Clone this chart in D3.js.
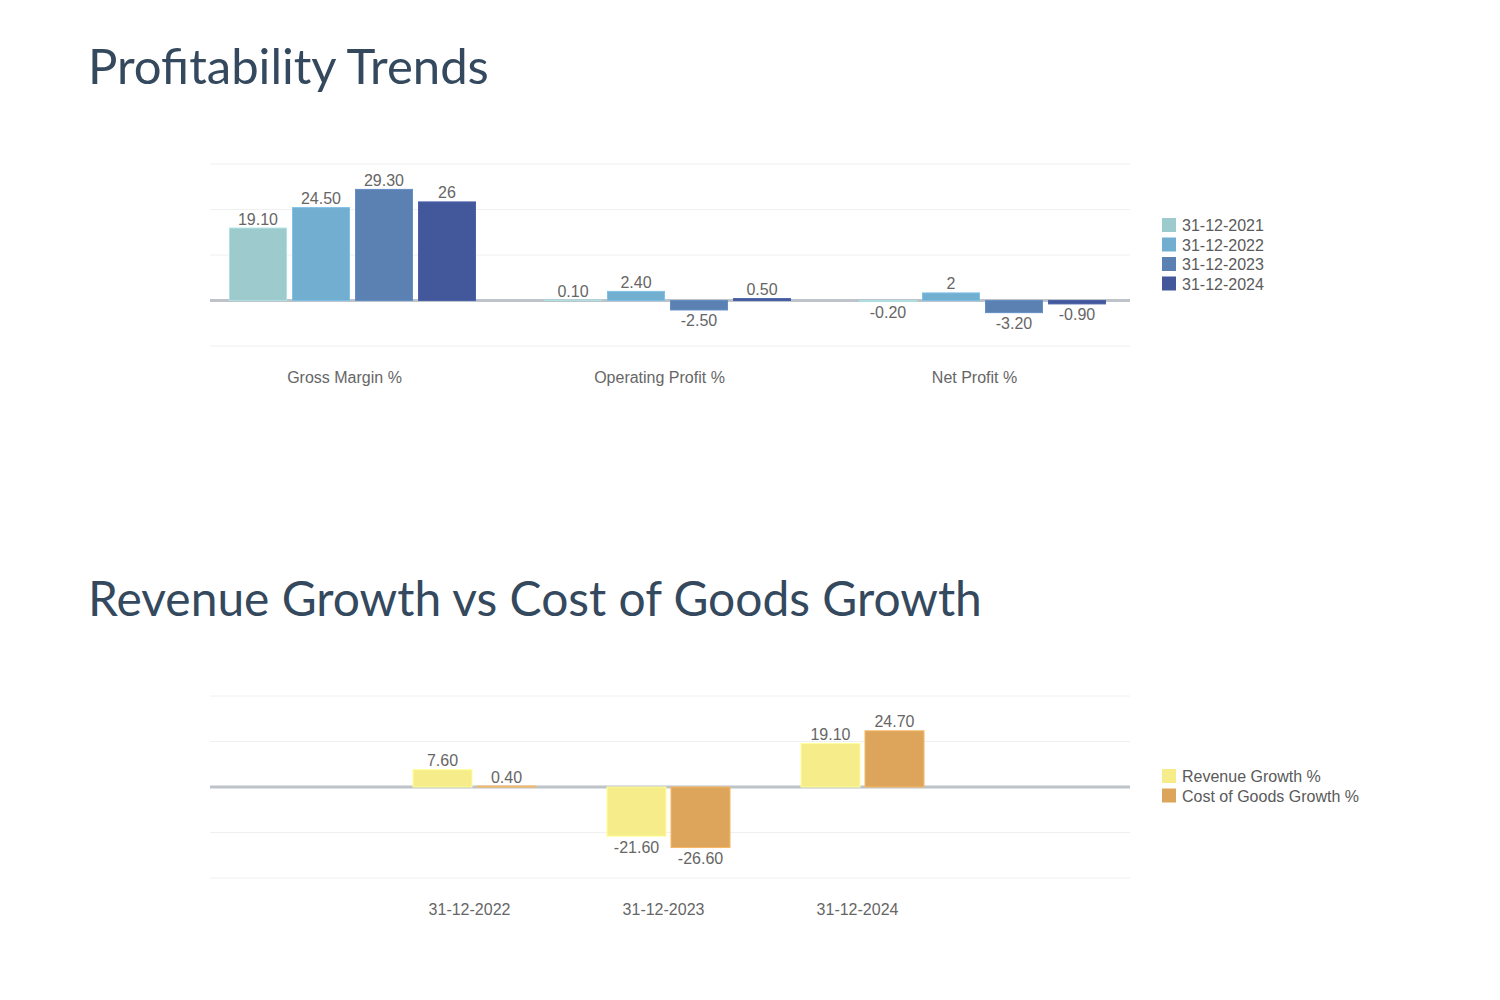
<!DOCTYPE html>
<html>
<head>
<meta charset="utf-8">
<script src="https://cdn.jsdelivr.net/npm/d3@7"></script>
<style>
  html, body { margin: 0; padding: 0; background: #fff; }
  svg { display: block; }
  .title { font-family: "Lato", "Open Sans", sans-serif; fill: #34495e; }
  .lbl { font-family: "Liberation Sans", Arial, sans-serif; font-size: 16px; fill: #666; }
  .legend text { font-family: "Liberation Sans", Arial, sans-serif; font-size: 16px; fill: #5a5a5a; }
</style>
</head>
<body>
<svg id="chart" width="1500" height="1000"></svg>
<script>
// ---------- Data ----------
const categories = ["Gross Margin %", "Operating Profit %", "Net Profit %"];
const years = ["31-12-2021", "31-12-2022", "31-12-2023", "31-12-2024"];
const values2021 = [19.1, 0.1, -0.2];
const values2022 = [24.5, 2.4, 2];
const values2023 = [29.3, -2.5, -3.2];
const values2024 = [26, 0.5, -0.9];
const profitTicks = [-12, 0, 12, 24, 36];

const growthDates = ["31-12-2022", "31-12-2023", "31-12-2024"];
const growthSeries = ["Revenue Growth %", "Cost of Goods Growth %"];
const revenueGrowth = [7.6, -21.6, 19.1];
const cogsGrowth = [0.4, -26.6, 24.7];
const growthTicks = [-40, -20, 0, 20, 40];

// ---------- Helpers ----------
const svg = d3.select("#chart");
const fmt = v => Number.isInteger(v) ? String(v) : v.toFixed(2);

function title(text, x, y, targetWidth) {
  const t = svg.append("text").attr("class", "title").attr("x", x).attr("y", y)
    .style("font-size", "46px").text(text);
  const w = t.node().getComputedTextLength();
  t.style("font-size", (46 * targetWidth / w) + "px");
}

function drawGrouped(opts) {
  const g = svg.append("g");
  const x0 = d3.scaleBand().domain(opts.cats).range(opts.xRange)
    .paddingInner(opts.padInner).paddingOuter(opts.padInner / 2);
  const x1 = d3.scaleBand().domain(opts.series).range([0, x0.bandwidth()])
    .paddingInner(opts.barGap);
  const y = d3.scaleLinear().domain(opts.yDomain).range(opts.yRange);

  // gridlines
  g.selectAll("line.grid").data(opts.ticks.filter(t => t !== 0)).join("line")
    .attr("x1", opts.gridX[0]).attr("x2", opts.gridX[1])
    .attr("y1", d => y(d)).attr("y2", d => y(d))
    .attr("stroke", "#f0f0f0").attr("stroke-width", 1);

  // zero line (beneath bars)
  g.append("line").attr("x1", opts.gridX[0]).attr("x2", opts.gridX[1])
    .attr("y1", y(0)).attr("y2", y(0))
    .attr("stroke", "#bdc3c9").attr("stroke-width", 3);

  // bars
  const rows = [];
  opts.cats.forEach((c, i) => opts.series.forEach((s, j) => {
    rows.push({ c, s, v: opts.values[j][i], color: opts.colors[j] });
  }));
  g.selectAll("rect.bar").data(rows).join("rect")
    .attr("x", d => x0(d.c) + x1(d.s))
    .attr("width", x1.bandwidth())
    .attr("y", d => Math.min(y(d.v), y(0)))
    .attr("height", d => Math.abs(y(d.v) - y(0)))
    .attr("fill", d => d.color)
    .attr("stroke", d => d3.color(d.color).brighter(0.3))
    .attr("stroke-width", 1);

  // value labels
  g.selectAll("text.val").data(rows).join("text").attr("class", "lbl")
    .attr("x", d => x0(d.c) + x1(d.s) + x1.bandwidth() / 2)
    .attr("y", d => d.v >= 0 ? y(d.v) - 3.5 : y(d.v) + 16.5)
    .attr("text-anchor", "middle")
    .text(d => fmt(d.v));

  // x axis labels
  const axis = g.append("g").attr("transform", `translate(0,${opts.axisY})`)
    .call(d3.axisBottom(x0).tickSize(0).tickPadding(0));
  axis.select(".domain").remove();
  axis.selectAll("text").attr("class", "lbl").attr("dx", opts.labelDx)
    .attr("dy", 0).style("font-size", null).attr("font-family", null);

  // legend
  const lg = g.append("g").attr("class", "legend")
    .attr("transform", `translate(${opts.legendX},${opts.legendY})`);
  const item = lg.selectAll("g").data(opts.series).join("g")
    .attr("transform", (d, i) => `translate(0,${i * 19.5})`);
  item.append("rect").attr("x", 0).attr("y", -7).attr("width", 14).attr("height", 14)
    .attr("fill", (d, i) => opts.colors[i]);
  item.append("text").attr("x", 20).attr("y", 6).text(d => d);
}

// ---------- Chart 1 ----------
title("Profitability Trends", 88, 84, 401);
drawGrouped({
  cats: categories, series: years,
  values: [values2021, values2022, values2023, values2024],
  colors: ["#9ccacd", "#72aed0", "#5b80b2", "#43589a"],
  xRange: [195, 1140], padInner: 69 / 315, barGap: 6 / 63,
  yDomain: [-12, 36], yRange: [346, 164], ticks: profitTicks,
  gridX: [210, 1130], axisY: 383, labelDx: -8,
  legendX: 1162, legendY: 225
});

// ---------- Chart 2 ----------
title("Revenue Growth vs Cost of Goods Growth", 88, 616, 894);
drawGrouped({
  cats: growthDates, series: growthSeries,
  values: [revenueGrowth, cogsGrowth],
  colors: ["#f6ec8a", "#dda55b"],
  xRange: [377.5, 959.5], padInner: 71 / 194, barGap: 5 / 64,
  yDomain: [-40, 40], yRange: [878, 696], ticks: growthTicks,
  gridX: [210, 1130], axisY: 915, labelDx: -5,
  legendX: 1162, legendY: 776
});
</script>
</body>
</html>
